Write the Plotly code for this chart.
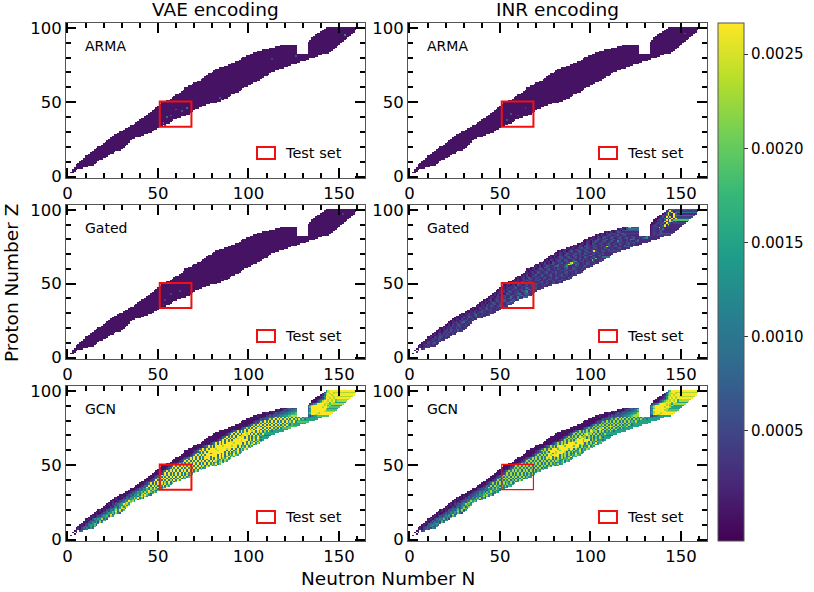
import numpy as np
import plotly.graph_objects as go

# ── Nuclide chart extents ────────────────────────────────────────────────────
Z_VALUES = list(range(3, 101))
N_START = [2, 3, 3, 4, 5, 5, 6, 7, 8, 9, 10, 10, 12, 13, 14, 15, 16, 17, 19, 20, 21, 22, 23, 24, 25,
           26, 28, 29, 31, 32, 34, 35, 37, 38, 39, 40, 41, 43, 44, 45, 46, 47, 48, 49, 50, 51, 52, 52,
           55, 57, 58, 59, 60, 62, 63, 64, 65, 65, 67, 69, 70, 72, 74, 75, 76, 77, 78, 80, 81, 82, 84,
           87, 89, 91, 93, 95, 96, 97, 99, 101, 103, 105, 108, 112, 115, 118,
           133, 133, 134, 135, 135, 136, 137, 138, 140, 141, 142, 143]
N_END = [3, 4, 5, 8, 11, 14, 15, 16, 17, 19, 21, 22, 23, 25, 26, 29, 30, 31, 32, 33, 34, 34, 35, 37, 40,
         42, 44, 46, 47, 49, 50, 52, 54, 56, 57, 58, 60, 62, 65, 67, 68, 69, 70, 72, 74, 76, 78, 82,
         84, 86, 88, 89, 90, 92, 94, 95, 96, 97, 99, 101, 102, 104, 106, 107, 108, 110, 111, 112, 114,
         116, 119, 121, 123, 126, 128, 131, 133, 136, 138, 140, 144, 145, 146, 147, 148, 149,
         150, 151, 152, 153, 154, 155, 156, 157, 158, 158, 159, 160]
# rows 83-88 are split by the notch: left part stops at LEFT_END, right part starts at RIGHT_START
NOTCH_Z = [83, 84, 85, 86, 87, 88]
LEFT_END = 126
RIGHT_START = 133

# colour level of each digit used in the row strings below, "." is an empty cell
LEVELS = [0.00005, 0.00025, 0.00045, 0.00065, 0.0009, 0.0012, 0.0015, 0.0019, 0.0023, 0.0027]

GCN_VAE = [
    "1.", ".0", "0.1", "01.34", "0103254", "0102435364", "0012534647", "0103246573", "0102435765",
    "01023546385", "010324647376", "0010354658463", "010123564758", "0101324657386", "0010235465947",
    "010013246574853", "001012435769486", "010103254685947", "00102345746985", "01002145368579",
    "00101324657948", "0102134569786", "0010213547968", "01001234659786", "0010023546576948",
    "01000214365869574", "00100323546479685",
    "000012436574869754", "00012354657968647", "000132465748697586", "00012345647958647",
    "000124365758697486", "000134394849596476", "0001243949584959486", "0000134849495849576",
    "0001249394959485947", "00012349594958495947", "00012394949594849596", "0001348495949594859476",
    "00012394959495949594857", "00013495949594959485946", "00001249594959495948596",
    "00012394959495949594857", "000134959495949594959486", "0000124949594959495948597",
    "00001349594959495949594856", "000012495949594959495948597", "0000123949594959495949594859476",
    "000012495949594959495949586957", "000013494959495949594959475896",
    "0000124959495949594959498579486", "0000134949594959495949597596876",
    "0000123594959495999594959486957", "0000013495949599949994959479586",
    "00000124959495999999495949586976", "00000134949599959999949594759486",
    "00000123595949999999994959486957", "000001249594999999899994959479586",
    "000001349495999899999899495948697", "000000124959499999999999949586976",
    "000001349594999989999899594759486", "000000123594959999999989949586957",
    "000001349495949999899994959479586", "000000124959495989999899495848697",
    "000000013494959499998999495958646", "0000000124959495989994959485976",
    "0000000134949594998949594859646", "000000012495949598994959485764",
    "00000001349495949989495948596", "00000001249594959899495948576",
    "0000000134949594998949594859646", "0000000012394959499949594958476",
    "0000000134859495989495949584957", "00000001243949594959995949586947",
    "000000013484959494959495948596476", "0000000124394959495949594958476",
    "00000001324849594959495949586957", "000000012343949594959495948596476",
    "0000000132334859495949594958495746", "00000001233435949594959495849576456",
    "0010000213233445566778|334567", "010000021323344556677|4599889",
    "00100013223344556675|57999989", "01000123233445566|4699999998",
    "0100132334455|46999999997", "01023423355|359999999986",
    "4799999989987", "35899999989786", "1356999989878", "00134799897986", "000135899898978",
    "00013479898978", "0001259989899", "001369899898", "014899899", "158989899", "278998", "5899",
]

GATED_INR = [
    "0.", ".1", "0.1", "01.12", "0101211", "0101122111", "0012111211", "0103212312", "0102112121",
    "01012113211", "010121231121", "0010211321211", "010112213121", "0101212131121", "0011022131211",
    "001012213121312", "010112132114121", "001021211312112", "01011211231211", "00102113211211",
    "01011221311212", "0011211341121", "0101021231121", "00110211311211", "0100121132112121",
    "00102113211512121", "01011211341121112", "001021131211211212", "01011201231211211",
    "001012103211221211", "01010211231211212", "001021132112112121", "010110213211231212",
    "0011021123113211212", "0102011321122113322", "0011021123114122532", "01012013212341123312",
    "00101211321143122413", "0110121123114211521433", "00102013211231213412231",
    "01011201321122341243212", "00110211231213112351213", "00102013211221234512131",
    "010112013211231214311212", "0010121123112134211231121", "01010213211223112341211211",
    "001101203211231221311212112", "0101021123112312113211213112114",
    "001021032112312112311211231121", "010110213211223112131121123112",
    "0010121123112131211321121131212", "0101201321122112311211321121131",
    "0011021032112311213112213121123", "0102011231132112311212311211212",
    "00110211321123121131121321121213", "01012013211231121312112311213112",
    "00101211231132112113221231121211", "010120132112311213211231123211212",
    "001102103211231121234112311213112", "010201132112341213511213211231121",
    "001012112311321125972143112132112", "010201032112311238942311213211211",
    "001102113211231124611321121321121", "010210123113211231121312117211231",
    "00110211321123112131121131271121", "0102013211231123121132112311214",
    "001102103211231121311242112311", "01021013211231211321123112131",
    "0011021123112311213211231211", "01021013211231123112931123212",
    "0011021032112311231121311231121", "0102101231132112311213211211231",
    "0011021032112311231184112311213", "01021013211231123112311312113121",
    "001102103211231123112113211231121", "0102101321123112311231121321231",
    "00110213211231123115231121311241", "010210132112311231123112154313111",
    "0011021032112311231123112311213451", "01021013211231123112113211231152311",
    "0102101231123112311|01212", "001021123112342|0122123",
    "01021013211|01211231", "00121023|0112113211", "0121034|012113241", "012793|0112181211",
    "012211239141", "001211318291", "0012123194312", "00112183297241", "001221392947",
    "0012152819293", "001319281932", "0132482194", "013921941", "1283914", "129312", "123423",
]

GCN_INR = [
    "1.", ".0", "0.1", "01.23", "0102343", "0102343254", "0012435436", "0102345453", "0103435654",
    "01023435274", "010323546365", "0010243547362", "010123454637", "0101323546275", "0010234354836",
    "010013235463742", "001012344658375", "010103243574836", "00102344635874", "01002134357468",
    "00101323546837", "0102133458675", "0010213436857", "01001233548675", "0010023435465837",
    "01000213354758463", "00100323435368574",
    "000012335465768574", "00012343546857636", "000123354637586475", "00012334536847564",
    "000123354647586475", "000133484748586465", "0001243848574858476", "0000133748485748566",
    "0001248384858475846", "00012348584857485846", "00012384848584748586", "0001347485848584758466",
    "00012384858485848584756", "00013485848584858475846", "00001248584858485847586",
    "00012384858485848584756", "000134858485848584858476", "0000124848584858485847586",
    "00001348584858485848584756", "000012485848584858485847586", "0000123848584858485848584758466",
    "000012485848584858485848576856", "000013484858485848584858465786",
    "0000124858485848584858487569476", "0000134848584858485848586586766",
    "0000123584858485989584858476856", "0000013485848589949894858469576",
    "00000124858485989999485848576876", "00000134848589959899948584659476",
    "00000123585849998999984858476856", "000001248584999999799984858469576",
    "000001348485999799999799485847687", "000000124858489999999999848576876",
    "000001348584999979999799584659476", "000000123584859999999979848576856",
    "000001348485849999799984858469576", "000000124858485979999799485747687",
    "000000013484858489997999485856646", "0000000124858485979984858475876",
    "0000000134848584987848584758646", "000000012485848587984858475664",
    "00000001348485848978485847586", "00000001248584858789485847566",
    "0000000134848584987848584758646", "0000000012384858489848584858466",
    "0000000134748485879485848574856", "00000001243848584858985848576846",
    "000000013474858484858485847586466", "0000000124384858485848584858466",
    "00000001324748584858485848576856", "000000012343848584858485847586466",
    "0000000132334748485848584857485646", "00000001233435848584858485748566456",
    "0010000213233344556678|223456", "010000021323344556678|3499889",
    "00100013223344556687|46899989", "01000123233445578|4689999998",
    "0100132334578|45999999887", "01023423478|357999999886",
    "4689999989986", "24799999989786", "1346899989868", "00134789897986", "000135789898968",
    "00013478898968", "0001258989899", "001368899898", "014789899", "157889899", "268998", "5799",
]

# sparse cells that stand out in the near-uniform panels: (N, Z, level digit)
ARMA_VAE_HOT = [(55, 40, 4), (53, 36, 5), (54, 34, 4), (60, 45, 3), (66, 46, 4), (63, 44, 3),
                (57, 41, 3), (85, 52, 5), (84, 53, 3), (126, 81, 3), (153, 95, 5), (113, 79, 2)]
ARMA_INR_HOT = [(54, 38, 3), (56, 42, 3), (60, 41, 2), (53, 35, 3), (64, 46, 2), (152, 96, 3)]
GATED_VAE_HOT = [(54, 39, 2), (57, 43, 2), (62, 45, 2), (53, 36, 2), (152, 97, 2), (85, 53, 2)]

PANEL_LABELS = ["ARMA", "ARMA", "Gated", "Gated", "GCN", "GCN"]
COLUMN_TITLES = ["VAE encoding", "INR encoding"]
X_TICKS = [0, 50, 100, 150]
Y_TICKS = [0, 50, 100]
BAR_TICKS = [0.0005, 0.0010, 0.0015, 0.0020, 0.0025]
TEST_N = [51, 68.5]
TEST_Z = [33.5, 50.5]

WIDTH, HEIGHT = 814, 592
FONT = "DejaVu Sans"
COLS_PX = [(66, 365), (408, 707)]
ROWS_PX = [(23, 178), (205, 359), (386, 541)]
LEGEND_Y_PX = [130, 131, 131]


def spans(i):
    if Z_VALUES[i] in NOTCH_Z:
        return [(N_START[i], LEFT_END), (RIGHT_START, N_END[i])]
    return [(N_START[i], N_END[i])]


def build_grid(rows=None, hot=()):
    n_axis = np.arange(0, 165)
    grid = np.full((len(Z_VALUES), len(n_axis)), np.nan)
    for i in range(len(Z_VALUES)):
        parts = rows[i].split("|") if rows else ["0"]
        for k, (lo, hi) in enumerate(spans(i)):
            part = parts[min(k, len(parts) - 1)]
            width = hi - lo + 1
            part = part.ljust(width, part[-1])[:width]
            for j, ch in enumerate(part):
                if ch != ".":
                    grid[i, lo + j] = LEVELS[int(ch)]
    for n, z, level in hot:
        grid[z - Z_VALUES[0], n] = LEVELS[level]
    return n_axis, grid


panels = [
    build_grid(hot=ARMA_VAE_HOT), build_grid(hot=ARMA_INR_HOT),
    build_grid(hot=GATED_VAE_HOT), build_grid(GATED_INR),
    build_grid(GCN_VAE), build_grid(GCN_INR),
]

fig = go.Figure()
annotations = []
shapes = []

for idx, (n_axis, grid) in enumerate(panels):
    row, col = divmod(idx, 2)
    suffix = "" if idx == 0 else str(idx + 1)
    xa, ya = "x" + suffix, "y" + suffix
    fig.add_trace(go.Heatmap(x=n_axis, y=Z_VALUES, z=grid, coloraxis="coloraxis",
                             xaxis=xa, yaxis=ya, hoverongaps=False))
    left, right = COLS_PX[col]
    top, bottom = ROWS_PX[row]
    height = bottom - top
    axis_common = dict(showgrid=False, zeroline=False, showline=True, linecolor="#555555", linewidth=1,
                       mirror="ticks", ticks="inside", ticklen=10, tickwidth=2, tickcolor="black",
                       tickfont=dict(family=FONT, size=16.5, color="black"),
                       minor=dict(ticks="inside", ticklen=5, tickwidth=1.5, tickcolor="black", dtick=10))
    fig.update_layout({
        "xaxis" + suffix: dict(domain=[left / WIDTH, right / WIDTH], range=[-0.8, 164.4],
                               tickvals=X_TICKS, anchor=ya, **axis_common),
        "yaxis" + suffix: dict(domain=[1 - bottom / HEIGHT, 1 - top / HEIGHT], range=[-1, 103.2],
                               tickvals=Y_TICKS, anchor=xa, **axis_common),
    })
    # red box around the test nuclides, thinner on the last panel like the original
    shapes.append(dict(type="rect", xref=xa, yref=ya, x0=TEST_N[0], x1=TEST_N[1], y0=TEST_Z[0], y1=TEST_Z[1],
                       line=dict(color="#f01010", width=1.2 if idx == 5 else 2)))
    # legend key drawn by hand, one per panel
    key_y = LEGEND_Y_PX[row]
    shapes.append(dict(type="rect", xref=xa + " domain", yref=ya + " domain",
                       x0=(257 - 66) / 299, x1=(275 - 66) / 299,
                       y0=1 - (key_y - 6) / height, y1=1 - (key_y + 6) / height,
                       line=dict(color="#f01010", width=2)))
    annotations.append(dict(text="Test set", xref=xa + " domain", yref=ya + " domain",
                            x=(283 - 66) / 299, y=1 - key_y / height, xanchor="left", yanchor="middle",
                            showarrow=False, font=dict(family=FONT, size=14.5, color="black")))
    annotations.append(dict(text=PANEL_LABELS[idx], xref=xa + " domain", yref=ya + " domain",
                            x=(83 - 66) / 299, y=1 - (23 / height), xanchor="left", yanchor="middle",
                            showarrow=False, font=dict(family=FONT, size=14, color="black")))

for title, (left, right) in zip(COLUMN_TITLES, COLS_PX):
    annotations.append(dict(text=title, xref="paper", yref="paper", x=(left + right) / 2 / WIDTH, y=1 - 10 / HEIGHT,
                            xanchor="center", yanchor="middle", showarrow=False,
                            font=dict(family=FONT, size=18.5, color="black")))
annotations.append(dict(text="Neutron Number N", xref="paper", yref="paper", x=388 / WIDTH, y=1 - 578 / HEIGHT,
                        xanchor="center", yanchor="middle", showarrow=False,
                        font=dict(family=FONT, size=18.5, color="black")))
annotations.append(dict(text="Proton Number Z", xref="paper", yref="paper", x=11 / WIDTH, y=1 - 283 / HEIGHT,
                        xanchor="center", yanchor="middle", textangle=-90, showarrow=False,
                        font=dict(family=FONT, size=18.5, color="black")))

fig.update_layout(
    width=WIDTH, height=HEIGHT, margin=dict(l=0, r=0, t=0, b=0, autoexpand=False),
    paper_bgcolor="white", plot_bgcolor="white",
    annotations=annotations, shapes=shapes,
    coloraxis=dict(
        colorscale="Viridis", cmin=-0.000085, cmax=0.002665,
        colorbar=dict(x=718 / WIDTH, xanchor="left", y=1 - 23 / HEIGHT, yanchor="top",
                      thickness=26, thicknessmode="pixels", len=518, lenmode="pixels",
                      xpad=0, ypad=0, outlinecolor="#555555", outlinewidth=1,
                      tickvals=BAR_TICKS, ticktext=["%.4f" % t for t in BAR_TICKS],
                      ticks="outside", ticklen=4, tickcolor="#333333",
                      tickfont=dict(family=FONT, size=15, color="black")),
    ),
)

# drop the default page margin so the figure sits at the window corner
fig.write_html("out.html", config={"displayModeBar": False},
               post_script="document.body.style.margin='0';")
